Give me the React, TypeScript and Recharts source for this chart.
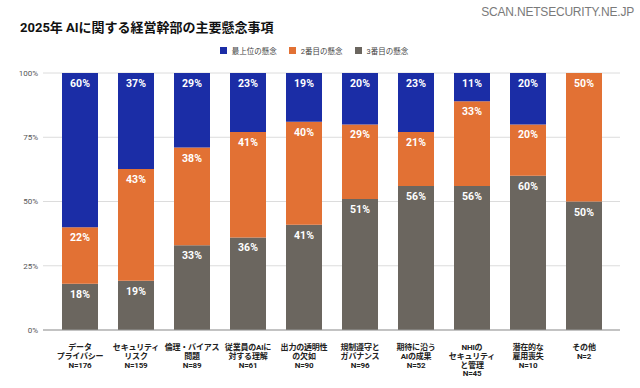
import React from 'react';
import { BarChart, Bar, XAxis, YAxis, CartesianGrid, LabelList } from 'recharts';

const categories = [
  'データ\nプライバシー\nN=176',
  'セキュリティ\nリスク\nN=159',
  '倫理・バイアス\n問題\nN=89',
  '従業員のAIに\n対する理解\nN=61',
  '出力の透明性\nの欠如\nN=90',
  '規制遵守と\nガバナンス\nN=96',
  '期待に沿う\nAIの成果\nN=52',
  'NHIの\nセキュリティ\nと管理\nN=45',
  '潜在的な\n雇用喪失\nN=10',
  'その他\nN=2',
];
const topConcern = [60, 37, 29, 23, 19, 20, 23, 11, 20, 0];
const secondConcern = [22, 43, 38, 41, 40, 29, 21, 33, 20, 50];
const thirdConcern = [18, 19, 33, 36, 41, 51, 56, 56, 60, 50];
const yTicks = [0, 0.25, 0.5, 0.75, 1];

const COLORS = { top: '#1b2da6', second: '#e27134', third: '#6b665f' };
const FONT = 'Roboto, "Noto Sans CJK JP", sans-serif';

const data = categories.map((name, i) => ({
  name,
  third: thirdConcern[i],
  second: secondConcern[i],
  top: topConcern[i],
}));

const legendItems = [
  { label: '最上位の懸念', color: COLORS.top },
  { label: '2番目の懸念', color: COLORS.second },
  { label: '3番目の懸念', color: COLORS.third },
];

function SegmentLabel(props: any) {
  const { x, y, width, value } = props;
  if (!value) return null;
  return (
    <text
      x={x + width / 2}
      y={y + 14}
      textAnchor="middle"
      fill="#fff"
      fontSize={10.5}
      fontWeight={700}
      fontFamily={FONT}
    >
      {value}%
    </text>
  );
}

function CategoryTick(props: any) {
  const { x, y, payload } = props;
  const lines = String(payload.value).split('\n');
  return (
    <g transform={`translate(${x},${y})`}>
      {lines.map((line, i) => (
        <text
          key={i}
          x={0}
          y={12 + i * 8.8}
          textAnchor="middle"
          fill="#222"
          fontSize={8}
          fontWeight={700}
          fontFamily={FONT}
          letterSpacing={-0.2}
        >
          {line}
        </text>
      ))}
    </g>
  );
}

export default function App() {
  return (
    <div style={{ position: 'absolute', left: 0, top: 0, width: 640, height: 388, background: '#fff', fontFamily: FONT }}>
      <div style={{ position: 'absolute', left: 20, top: 17, fontSize: 13, fontWeight: 700, color: '#111', whiteSpace: 'nowrap' }}>
        2025年 AIに関する経営幹部の主要懸念事項
      </div>
      <div style={{ position: 'absolute', right: 6, top: 5, fontSize: 12, color: '#7a7a7a', fontFamily: '"Liberation Sans", Arial, sans-serif', letterSpacing: -0.2 }}>
        SCAN.NETSECURITY.NE.JP
      </div>
      <div style={{ position: 'absolute', left: 0, width: 640, top: 45, display: 'flex', justifyContent: 'center', fontSize: 7.5, color: '#444' }}>
        {legendItems.map((it) => (
          <div key={it.label} style={{ display: 'flex', alignItems: 'center', marginRight: 12 }}>
            <span style={{ display: 'inline-block', width: 7, height: 7, background: it.color, marginRight: 5 }} />
            <span>{it.label}</span>
          </div>
        ))}
      </div>
      <BarChart
        width={640}
        height={388}
        data={data}
        stackOffset="expand"
        margin={{ top: 73, right: 20, bottom: 0, left: 0 }}
      >
        <CartesianGrid vertical={false} stroke="#dcdcdc" />
        <XAxis
          dataKey="name"
          interval={0}
          height={58}
          tick={<CategoryTick />}
          tickLine={false}
          axisLine={{ stroke: '#999' }}
          padding={{ left: 9, right: 8 }}
        />
        <YAxis
          width={43}
          ticks={yTicks}
          domain={[0, 1]}
          tickFormatter={(v: number) => `${Math.round(v * 100)}%`}
          tick={{ fontSize: 8, fill: '#555', fontFamily: FONT }}
          tickLine={false}
          axisLine={false}
          tickSize={0}
          tickMargin={5}
        />
        <Bar dataKey="third" stackId="a" fill={COLORS.third} barSize={36} isAnimationActive={false}>
          <LabelList dataKey="third" content={<SegmentLabel />} />
        </Bar>
        <Bar dataKey="second" stackId="a" fill={COLORS.second} barSize={36} isAnimationActive={false}>
          <LabelList dataKey="second" content={<SegmentLabel />} />
        </Bar>
        <Bar dataKey="top" stackId="a" fill={COLORS.top} barSize={36} isAnimationActive={false}>
          <LabelList dataKey="top" content={<SegmentLabel />} />
        </Bar>
      </BarChart>
    </div>
  );
}
